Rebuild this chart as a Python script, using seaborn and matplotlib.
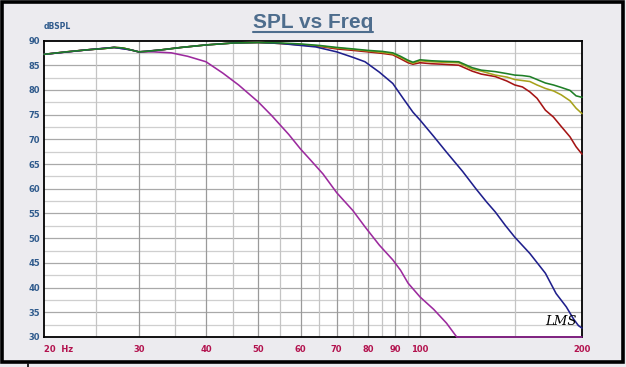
import numpy as np
import pandas as pd
import matplotlib
matplotlib.use("Agg")
import matplotlib.pyplot as plt
from matplotlib.lines import Line2D
from matplotlib.patches import Rectangle
from matplotlib.ticker import FixedLocator, NullFormatter
import seaborn as sns

# --- data (Hz, dB SPL) ---
freq_top = [20, 22, 24, 26, 27, 28, 29, 30, 31, 33, 36, 40, 45, 50, 55, 60, 65, 70,
            75, 80, 85, 89, 92, 95, 97, 100, 105, 110, 118, 125, 130, 138, 145, 150,
            155, 160, 165, 171, 177, 183, 190, 195, 200]
spl_green = [87.2, 87.7, 88.1, 88.4, 88.6, 88.5, 88.1, 87.7, 87.8, 88.1, 88.6, 89.1,
             89.5, 89.6, 89.5, 89.3, 89.0, 88.6, 88.3, 88.0, 87.8, 87.5, 86.8, 86.0,
             85.6, 86.1, 85.9, 85.8, 85.7, 84.5, 84.0, 83.7, 83.3, 83.0, 82.9, 82.7,
             82.1, 81.4, 81.0, 80.5, 79.9, 78.8, 78.5]
spl_olive = [87.2, 87.7, 88.1, 88.4, 88.6, 88.5, 88.1, 87.7, 87.8, 88.1, 88.6, 89.1,
             89.5, 89.6, 89.4, 89.2, 88.9, 88.5, 88.2, 87.9, 87.6, 87.3, 86.6, 85.8,
             85.4, 85.9, 85.7, 85.6, 85.5, 84.2, 83.8, 83.0, 82.6, 82.1, 81.9, 81.7,
             81.0, 80.3, 79.8, 79.0, 77.8, 76.3, 75.2]
spl_red = [87.2, 87.7, 88.1, 88.4, 88.6, 88.5, 88.1, 87.7, 87.8, 88.1, 88.6, 89.1,
           89.5, 89.6, 89.4, 89.1, 88.8, 88.3, 88.0, 87.7, 87.4, 87.1, 86.3, 85.5,
           85.2, 85.5, 85.3, 85.2, 85.0, 83.8, 83.2, 82.7, 81.8, 81.0, 80.6, 79.6,
           78.3, 75.9, 74.5, 72.6, 70.5, 68.5, 67.0]

freq_blue = [20, 24, 27, 29, 30, 33, 36, 40, 45, 50, 55, 60, 64, 70, 75, 79, 84, 89,
             93, 97, 100, 106, 112, 120, 127, 133, 138, 144, 150, 160, 171, 179, 187,
             193, 197, 200]
spl_blue = [87.2, 88.1, 88.6, 88.1, 87.7, 88.1, 88.6, 89.1, 89.5, 89.6, 89.4, 89.0,
            88.7, 87.7, 86.6, 85.7, 83.6, 81.3, 78.3, 75.5, 73.9, 70.6, 67.4, 63.5,
            60.0, 57.3, 55.3, 52.6, 50.2, 46.9, 42.9, 38.8, 36.1, 33.6, 32.3, 31.8]

freq_purple = [20, 24, 27, 29, 30, 32, 34.5, 37, 40, 43, 46, 50, 53, 57, 60, 62, 66,
               70, 75, 79, 84, 89, 92, 95, 100, 106, 112, 117, 150, 200]
spl_purple = [87.2, 88.1, 88.6, 88.1, 87.7, 87.7, 87.5, 86.8, 85.7, 83.4, 81.0, 77.6,
              74.8, 71.0, 68.0, 66.3, 63.0, 59.2, 55.6, 52.3, 48.6, 45.6, 43.5, 40.9,
              38.1, 35.6, 32.8, 30.0, 30.0, 30.0]

x_ticks = [20, 30, 40, 50, 60, 70, 80, 90, 100, 200]
x_labels = ["20  Hz", "30", "40", "50", "60", "70", "80", "90", "100", "200"]
x_minor = [25, 35, 45, 55, 65, 75, 85, 95, 150]
y_ticks = list(range(30, 91, 5))

sns.set_theme(style="white")
plt.rcParams["font.family"] = ["DejaVu Sans"]

fig = plt.figure(figsize=(6.26, 3.67), dpi=100)
fig.patch.set_facecolor("#ecebef")
ax = fig.add_axes([44 / 626, 1 - 337 / 367, 538 / 626, 296.5 / 367])
ax.set_facecolor("white")

# outer frame
fig.add_artist(Rectangle((1.5 / 626, 1 - 362 / 367), 621 / 626, 360 / 367,
                         transform=fig.transFigure, fill=False, edgecolor="black",
                         linewidth=2.6))
fig.add_artist(Line2D([28 / 626, 28 / 626], [0, 1 - 364 / 367],
                      transform=fig.transFigure, color="black", linewidth=1.2))

# grid
for yv in np.arange(32.5, 90, 5):
    ax.axhline(yv, color="#cfcfcf", linewidth=0.9, zorder=0)
for yv in range(35, 90, 5):
    ax.axhline(yv, color="#a9a9a9", linewidth=0.9, zorder=0)
for xv in x_minor:
    ax.axvline(xv, color="#c4c4c4", linewidth=0.9, zorder=0)
for xv in x_ticks[1:-1]:
    ax.axvline(xv, color="#9a9a9a", linewidth=0.9, zorder=0)

series = [
    (freq_top, spl_red, "#a51414"),
    (freq_top, spl_olive, "#a8a21c"),
    (freq_purple, spl_purple, "#9c2a9e"),
    (freq_blue, spl_blue, "#1f1f8c"),
    (freq_top, spl_green, "#1f7f27"),
]
for f, s, c in series:
    df = pd.DataFrame({"freq": f, "spl": s})
    sns.lineplot(data=df, x="freq", y="spl", ax=ax, color=c, linewidth=1.15,
                 estimator=None, sort=False, zorder=3, clip_on=False)

ax.set_xscale("log")
ax.set_xlim(20, 200)
ax.set_ylim(30, 90)
ax.xaxis.set_major_locator(FixedLocator(x_ticks))
ax.xaxis.set_minor_locator(FixedLocator([]))
ax.xaxis.set_minor_formatter(NullFormatter())
ax.set_xticks(x_ticks)
ax.set_xticklabels(x_labels)
ax.set_yticks(y_ticks)
ax.set_yticklabels([str(v) for v in y_ticks])
ax.tick_params(axis="x", length=0, pad=6, labelsize=6, labelcolor="#b3124e")
ax.tick_params(axis="y", length=0, pad=3, labelsize=6, labelcolor="#2f5a8c")
for lab in ax.get_xticklabels() + ax.get_yticklabels():
    lab.set_fontweight("bold")
ax.get_xticklabels()[0].set_horizontalalignment("left")
ax.set_xlabel("")
ax.set_ylabel("")
for sp in ax.spines.values():
    sp.set_color("black")
    sp.set_linewidth(1.3)
    sp.set_zorder(2)

fig.text(44 / 626, 1 - 31 / 367, "dBSPL", fontsize=5.5, fontweight="bold",
         color="#2f5a8c", ha="left", va="bottom")
ax.text(0.99, 0.03, "LMS", transform=ax.transAxes, fontsize=9.5, style="italic",
        family="DejaVu Serif", color="black", ha="right", va="bottom")

title = fig.text(0.5, 1 - 28.5 / 367, "SPL vs Freq", fontsize=15, fontweight="bold",
                 color="#4e6d8d", ha="center", va="baseline", family="Liberation Sans")
fig.canvas.draw()
bb = title.get_window_extent(fig.canvas.get_renderer()).transformed(fig.transFigure.inverted())
fig.add_artist(Line2D([bb.x0, bb.x1], [1 - 32 / 367, 1 - 32 / 367],
                      transform=fig.transFigure, color="#4e6d8d", linewidth=1.5))

fig.savefig("out.png", dpi=100, facecolor=fig.get_facecolor())
